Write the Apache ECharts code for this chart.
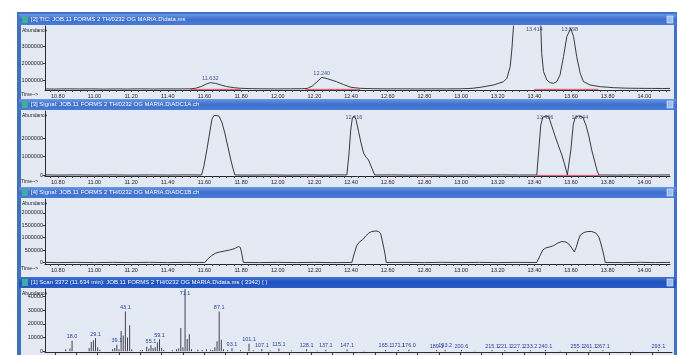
<!DOCTYPE html>
<html>
<head>
<meta charset="utf-8">
<script src="https://cdn.jsdelivr.net/npm/echarts@6/dist/echarts.min.js"></script>
<style>
html,body{margin:0;padding:0;background:#ffffff;overflow:hidden;}
#chart{width:677px;height:355px;}
</style>
</head>
<body>
<div id="chart"></div>
<script>
// ---------- DATA ----------
const timeTickLabels = [10.80,11.00,11.20,11.40,11.60,11.80,12.00,12.20,12.40,12.60,12.80,13.00,13.20,13.40,13.60,13.80,14.00];

const panelTitles = [
  "[2] TIC: JOB.11 FORMS 2 TH/0232 OG MARIA.D\\data.ms",
  "[3] Signal: JOB.11 FORMS 2 TH/0232 OG MARIA.D\\ADC1A.ch",
  "[4] Signal: JOB.11 FORMS 2 TH/0232 OG MARIA.D\\ADC1B.ch",
  "[1] Scan 3372 (11.634 min): JOB.11 FORMS 2 TH/0232 OG MARIA.D\\data.ms ( 3342) ( )"
];

// TIC
const ticT = [10.73,10.78,10.85,10.92,10.98,11.05,11.12,11.18,11.25,11.32,11.38,11.45,11.52,11.55,11.58,11.61,11.632,11.66,11.69,11.72,11.76,11.80,11.86,11.93,12.00,12.07,12.13,12.16,12.19,12.22,12.24,12.27,12.32,12.36,12.40,12.45,12.52,12.60,12.68,12.76,12.84,12.92,13.00,13.06,13.104,13.177,13.232,13.25,13.268,13.277,13.286,13.31,13.36,13.414,13.43,13.435,13.44,13.45,13.468,13.486,13.504,13.522,13.54,13.559,13.577,13.598,13.614,13.631,13.65,13.668,13.704,13.759,13.832,13.90,13.97,14.04,14.10,14.14];
const ticV = [465000,458000,470000,462000,468000,457000,466000,460000,469000,461000,467000,463000,472000,500000,600000,760000,840000,800000,700000,610000,540000,500000,480000,470000,466000,472000,478000,490000,650000,950000,1160000,1080000,900000,720000,560000,500000,478000,468000,472000,464000,470000,466000,474000,500000,560000,700000,900000,1100000,1800000,2800000,4200000,8000000,12000000,13000000,8000000,4200000,2600000,1500000,1000000,840000,800000,900000,1300000,2400000,3600000,4100000,3600000,2400000,1400000,900000,700000,600000,540000,510000,500000,495000,490000,492000];
const ticPeakT = [11.632,12.240,13.400,13.593];
const ticPeakV = [840000,1160000,3800000,3800000];
const ticPeakLabel = ["11.632","12.240","13.414","13.598"];
const ticRedBase = [[11.52,11.80],[12.15,12.45],[13.40,13.75]];

// Signal A
const sigAT = [10.73,10.80,10.90,11.00,11.10,11.20,11.30,11.40,11.50,11.584,11.597,11.613,11.630,11.641,11.652,11.662,11.678,11.695,11.711,11.727,11.744,11.755,11.766,11.85,11.95,12.05,12.15,12.25,12.35,12.377,12.388,12.398,12.407,12.415,12.426,12.441,12.453,12.468,12.481,12.495,12.513,12.529,12.62,12.72,12.82,12.92,13.02,13.12,13.22,13.32,13.413,13.424,13.435,13.446,13.462,13.479,13.495,13.511,13.532,13.55,13.566,13.580,13.586,13.599,13.612,13.623,13.642,13.664,13.681,13.697,13.713,13.730,13.741,13.752,13.85,13.95,14.05,14.14];
const sigAV = [8000,-5000,6000,-4000,5000,-6000,4000,-3000,6000,0,490000,1360000,2400000,3050000,3250000,3270000,3220000,2890000,2290000,1580000,820000,380000,0,-4000,5000,-6000,4000,-5000,6000,0,1090000,2450000,3100000,3220000,3050000,2360000,1800000,1200000,980000,820000,380000,0,5000,-4000,6000,-5000,4000,-6000,5000,-3000,0,1360000,2730000,3160000,3220000,3160000,2670000,2180000,1580000,1090000,545000,0,0,1360000,2730000,3160000,3220000,3160000,2730000,2130000,1360000,710000,270000,0,-4000,5000,-3000,4000];
const sigAPeakT = [12.415,13.458,13.648];
const sigAPeakV = [2890000,2890000,2890000];
const sigAPeakLabel = ["12.416","13.456","13.644"];
const sigARedBase = [[13.41,13.76]];

// Signal B
const sigBT = [10.73,10.80,10.90,11.00,11.10,11.20,11.30,11.40,11.50,11.602,11.618,11.640,11.662,11.684,11.711,11.738,11.766,11.785,11.796,11.804,11.812,11.90,12.00,12.10,12.20,12.30,12.404,12.415,12.431,12.448,12.464,12.480,12.497,12.513,12.535,12.551,12.562,12.573,12.584,12.592,12.70,12.80,12.90,13.00,13.10,13.20,13.30,13.413,13.430,13.446,13.462,13.484,13.506,13.528,13.550,13.572,13.588,13.604,13.618,13.629,13.640,13.651,13.670,13.692,13.713,13.735,13.752,13.765,13.776,13.787,13.88,13.98,14.06,14.14];
const sigBV = [6000,-4000,5000,-5000,4000,-3000,6000,-4000,5000,0,141000,282000,383000,423000,464000,504000,565000,645000,605000,343000,0,-4000,5000,-3000,4000,-5000,0,302000,685000,847000,927000,1070000,1190000,1250000,1270000,1250000,1150000,786000,383000,0,5000,-4000,6000,-3000,4000,-5000,5000,0,262000,504000,585000,625000,685000,786000,847000,827000,746000,585000,423000,625000,907000,1110000,1210000,1250000,1250000,1190000,1030000,706000,383000,0,-4000,5000,-3000,4000];

// Mass spectrum (scan at 11.634 min)
const specMz = [15,17,18,26,27,28,29,30,31,37,38,39,40,41,42,43,44,45,46,50,51,53,54,55,56,57,58,59,60,61,65,67,68,69,70,71,72,73,74,77,79,81,83,84,85,86,87,88,89,91,93,97,101,103,107,111,115,121,128,133,137,147,155,165,171,176,189,193,200.6,207,215,221,227,233,240,247,255,261,267,281,293];
const specAb = [1500,2000,7800,2400,6800,8000,9700,3000,1200,1500,2500,4800,1500,14800,11500,29000,10000,19000,1500,800,1000,3300,2000,4500,2500,3000,6500,8800,2500,1000,800,1500,2000,17000,3000,45500,9000,12500,1500,1200,1000,1500,1200,1000,3000,7300,29000,8500,1500,1000,2200,800,5500,800,1600,600,2000,600,1500,500,1200,1400,500,1000,1000,1100,900,1000,900,400,900,800,900,800,900,400,800,900,700,400,900];
const specLabel = ["","","18.0","","","","29.1","","","","","39.1","","","","43.1","","","","","","","","55.1","","","","59.1","","","","","","","","71.1","","","","","","","","","","","87.1","","","","93.1","","101.1","","107.1","","115.1","","128.1","","137.1","147.1","","165.1","171.1","176.0","189.1","193.2","200.6","","215.1","221.1","227.1","233.2","240.1","","255.1","261.1","267.1","","293.1"];

const ticYLabels = [1000000,2000000,3000000];
const sigAYLabels = [0,1000000,2000000];
const sigBYLabels = [0,500000,1000000,1500000,2000000];
const specYLabels = [0,10000,20000,30000,40000];

// ---------- LAYOUT ----------
const FONT = "Liberation Sans";
const tMin = 10.73, tMax = 14.14;
const minorTicks = [];
for (let k = 0; k <= 85; k++) { const v = +(10.76 + k * 0.04).toFixed(2); if (v < tMax) minorTicks.push(v); }
const mzTicks = [];
for (let m = 10; m <= 290; m += 10) mzTicks.push(m);

const panels = [
  {titleY: 14, contentTop: 25, contentH: 74, gridTop: 26, gridH: 64, yMin: 400000, yMax: 4240000, yLabels: ticYLabels, timeY: 95},
  {titleY: 99, contentTop: 110, contentH: 77, gridTop: 111, gridH: 65, yMin: -55000, yMax: 3490000, yLabels: sigAYLabels, timeY: 182},
  {titleY: 187, contentTop: 198, contentH: 79, gridTop: 199, gridH: 65, yMin: -60500, yMax: 2560000, yLabels: sigBYLabels, timeY: 269},
  {titleY: 277, contentTop: 288, contentH: 67, gridTop: 289, gridH: 63, yMin: -500, yMax: 45500, yLabels: specYLabels, timeY: 358}
];

const zip = (a, b) => a.map((v, i) => [v, b[i]]);

const grids = panels.map((p, i) => ({left: 45, top: p.gridTop, width: i === 3 ? 627 : 625, height: p.gridH, containLabel: false, outerBoundsMode: 'none'}));

const xAxes = panels.map((p, i) => {
  if (i === 3) {
    return {type: 'value', gridIndex: i, min: 5.3, max: 299.4,
      axisLine: {show: true, onZero: false, lineStyle: {color: '#2a2a2a', width: 1}},
      axisTick: {show: true, customValues: mzTicks, length: 3, lineStyle: {color: '#333'}},
      axisLabel: {show: true, customValues: mzTicks, fontSize: 5.5, fontFamily: FONT, color: '#222', margin: 2},
      splitLine: {show: false}};
  }
  return {type: 'value', gridIndex: i, min: tMin, max: tMax,
    axisLine: {show: true, onZero: false, lineStyle: {color: '#2a2a2a', width: 1}},
    axisTick: {show: true, customValues: minorTicks, length: 2, lineStyle: {color: '#444'}},
    axisLabel: {show: true, customValues: timeTickLabels, formatter: v => v.toFixed(2), fontSize: 5.5, fontFamily: FONT, color: '#222', margin: 3},
    splitLine: {show: false}};
});

const yAxes = panels.map((p, i) => ({
  type: 'value', gridIndex: i, min: p.yMin, max: p.yMax,
  axisLine: {show: true, onZero: false, lineStyle: {color: '#2a2a2a', width: 1}},
  axisTick: {show: true, customValues: p.yLabels, length: 2, lineStyle: {color: '#333'}},
  axisLabel: {show: true, customValues: p.yLabels, fontSize: 5.5, fontFamily: FONT, color: '#222', margin: 2, formatter: v => String(Math.round(v))},
  splitLine: {show: false}
}));

const traceStyle = {color: '#3a3a3a', width: 1};
function traceSeries(idx, t, v) {
  return {type: 'line', xAxisIndex: idx, yAxisIndex: idx, data: zip(t, v), symbol: 'none', smooth: false, clip: true,
    lineStyle: traceStyle, itemStyle: {color: '#3a3a3a'}, z: 3, silent: true, animation: false};
}
function labelSeries(idx, t, v, lbl) {
  return {type: 'scatter', xAxisIndex: idx, yAxisIndex: idx, symbolSize: 0.1, itemStyle: {color: 'rgba(0,0,0,0)'}, z: 5,
    data: t.map((x, i) => ({value: [x, v[i]], label: {formatter: lbl[i]}})),
    label: {show: true, position: 'top', distance: 1, fontSize: 5.5, fontFamily: FONT, color: '#1c2a70'}, silent: true, animation: false};
}
function redBaseSeries(idx, segs, level) {
  const out = [];
  segs.forEach(s => { out.push([s[0], level]); out.push([s[1], level]); out.push(null); });
  return {type: 'line', xAxisIndex: idx, yAxisIndex: idx, data: out.map(d => d === null ? [null, null] : d), connectNulls: false,
    symbol: 'none', lineStyle: {color: '#e0506a', width: 1}, z: 4, silent: true, animation: false};
}

const series = [
  redBaseSeries(0, ticRedBase, 440000),
  traceSeries(0, ticT, ticV),
  labelSeries(0, ticPeakT, ticPeakV, ticPeakLabel),
  redBaseSeries(1, sigARedBase, -20000),
  traceSeries(1, sigAT, sigAV),
  labelSeries(1, sigAPeakT, sigAPeakV, sigAPeakLabel),
  traceSeries(2, sigBT, sigBV),
  {type: 'bar', xAxisIndex: 3, yAxisIndex: 3, barWidth: 1, z: 3, silent: true, animation: false,
    itemStyle: {color: '#40424e'},
    data: specMz.map((m, i) => {
      const item = {value: [m, specAb[i]]};
      if (specLabel[i]) {
        item.label = {show: true, formatter: specLabel[i], position: specAb[i] > 44000 ? 'insideTop' : 'top', distance: 1,
          fontSize: 5.5, fontFamily: FONT, color: '#2a40a8'};
      }
      return item;
    })}
];

// decorative window frame / title bars
const graphics = [
  {type: 'rect', shape: {x: 17, y: 12, width: 660, height: 343}, style: {fill: '#4070c8'}, z: -10, silent: true}
];
panels.forEach((p, i) => {
  graphics.push({type: 'rect', shape: {x: 21, y: p.contentTop, width: 653, height: p.contentH}, style: {fill: '#e4eaf4'}, z: -9, silent: true});
  graphics.push({type: 'rect', shape: {x: 19, y: p.titleY, width: 657, height: 11},
    style: {fill: new echarts.graphic.LinearGradient(0, 0, 0, 1, [
      {offset: 0, color: i === 3 ? '#3f73d6' : '#6a98e2'},
      {offset: 0.5, color: i === 3 ? '#1f52bf' : '#3d6fcf'},
      {offset: 1, color: i === 3 ? '#2a5cc6' : '#4a7bd6'}])}, z: -8, silent: true});
  graphics.push({type: 'rect', shape: {x: 22, y: p.titleY + 2, width: 6, height: 7}, style: {fill: '#3fae9a'}, z: -7, silent: true});
  graphics.push({type: 'rect', shape: {x: 667, y: p.titleY + 2, width: 6, height: 7}, style: {fill: '#9cbcf0', stroke: '#e8f0ff', lineWidth: 0.6}, z: -7, silent: true});
  graphics.push({type: 'text', x: 31, y: p.titleY + 5.5, style: {text: panelTitles[i], fill: '#ffffff', font: '6px "' + FONT + '"', verticalAlign: 'middle', textVerticalAlign: 'middle'}, z: 10, silent: true});
  graphics.push({type: 'text', x: 22, y: p.gridTop + 5, style: {text: 'Abundance', fill: '#222', font: '5px "' + FONT + '"', verticalAlign: 'middle', textVerticalAlign: 'middle'}, z: 10, silent: true});
  graphics.push({type: 'text', x: 21, y: p.timeY, style: {text: i === 3 ? 'm/z-->' : 'Time-->', fill: '#222', font: '5px "' + FONT + '"', verticalAlign: 'middle', textVerticalAlign: 'middle'}, z: 10, silent: true});
});

const chart = echarts.init(document.getElementById('chart'), null, {renderer: 'canvas'});
chart.setOption({
  animation: false,
  backgroundColor: '#ffffff',
  grid: grids,
  xAxis: xAxes,
  yAxis: yAxes,
  series: series,
  graphic: {elements: graphics}
});
</script>
</body>
</html>
